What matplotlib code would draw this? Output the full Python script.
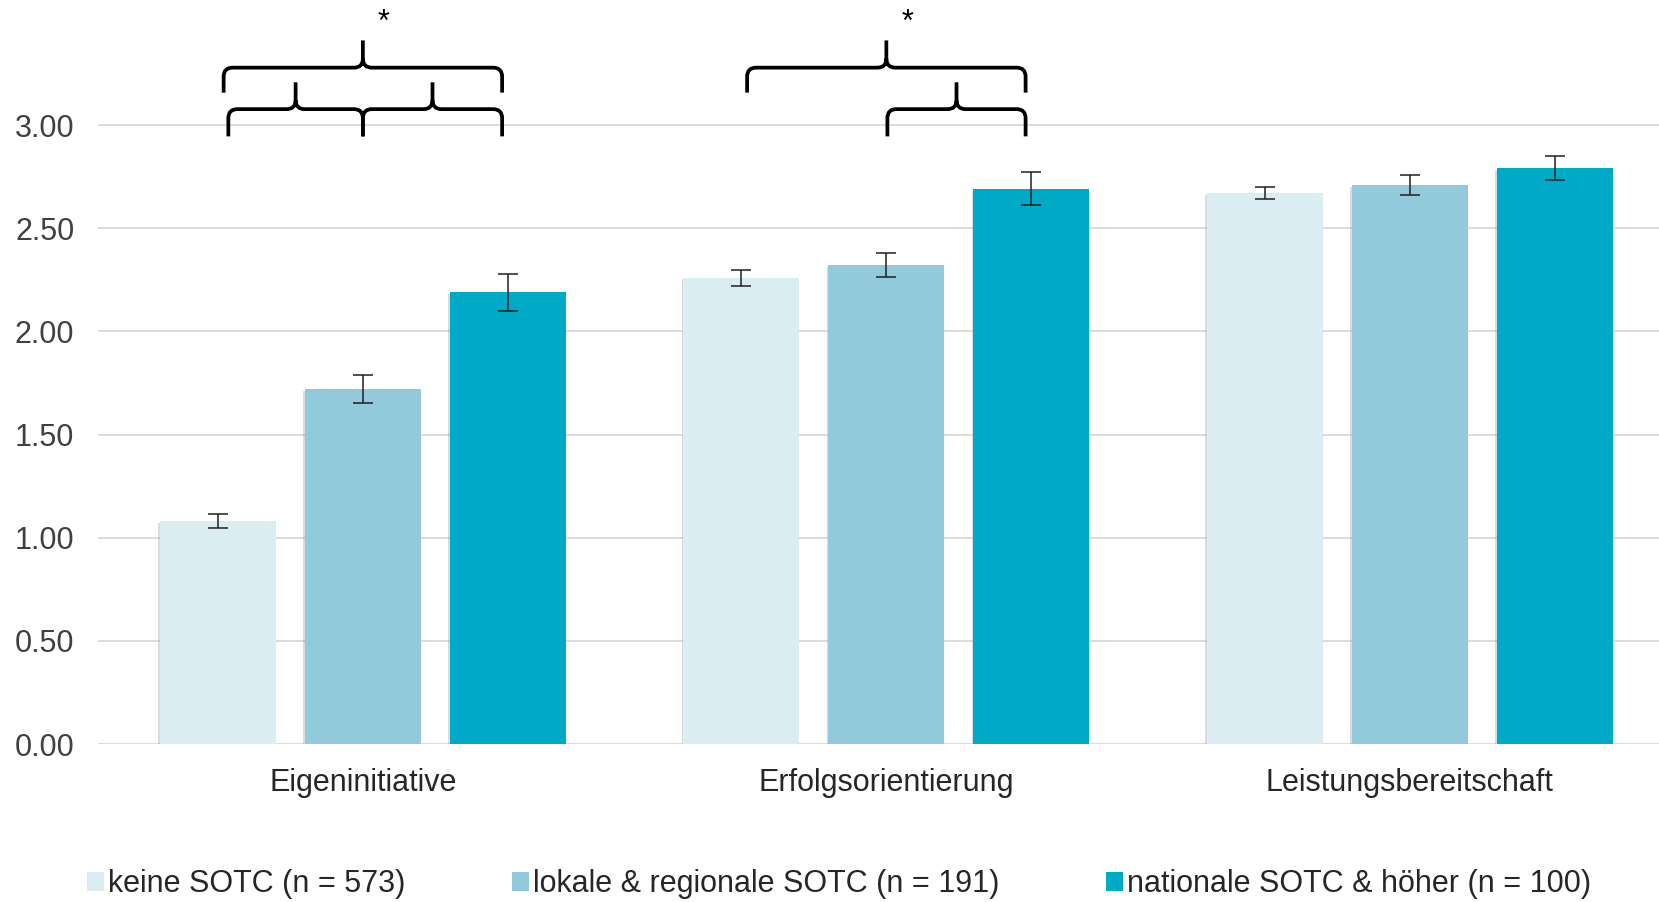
import numpy as np
import matplotlib
matplotlib.use("Agg")
import matplotlib.pyplot as plt
from matplotlib.path import Path
from matplotlib.patches import PathPatch, Patch
import matplotlib.patheffects as pe

plt.rcParams['font.family'] = ['Liberation Sans', 'DejaVu Sans']

# ---- data ----
categories = ["Eigeninitiative", "Erfolgsorientierung", "Leistungsbereitschaft"]
series_labels = ["keine SOTC (n = 573)",
                 "lokale & regionale SOTC (n = 191)",
                 "nationale SOTC & höher (n = 100)"]
means_keine = [1.08, 2.26, 2.67]
means_lokal = [1.72, 2.32, 2.71]
means_national = [2.19, 2.69, 2.79]
err_keine = [0.034, 0.038, 0.029]
err_lokal = [0.067, 0.058, 0.050]
err_national = [0.090, 0.080, 0.058]
yticks = [0.0, 0.5, 1.0, 1.5, 2.0, 2.5, 3.0]

colors = ["#DAEDF2", "#93CADB", "#00AAC7"]
text_dark = "#262626"
grid_color = "#D9D9D9"

W, H = 1659, 902
fig = plt.figure(figsize=(W / 100, H / 100), dpi=100)
ax = fig.add_axes([98 / W, 1 - 744 / H, 1 - 98 / W, (744 - 114.7) / H])

x = np.arange(len(categories))
step = 0.277
width = 0.222
offsets = [-step, 0.0, step]
all_means = [means_keine, means_lokal, means_national]
all_errs = [err_keine, err_lokal, err_national]

shadow = [pe.SimplePatchShadow(offset=(-1.2, -1.2), shadow_rgbFace="#9a9a9a", alpha=0.35), pe.Normal()]
for off, m, e, c, lab in zip(offsets, all_means, all_errs, colors, series_labels):
    bars = ax.bar(x + off, m, width=width, color=c, label=lab, zorder=2)
    for b in bars:
        b.set_path_effects(shadow)
    ax.errorbar(x + off, m, yerr=e, fmt="none", ecolor="#1f1f1f",
                elinewidth=1.1, capsize=7.5, capthick=1.1, zorder=3)

ax.set_xlim(-0.506, 2.476)
ax.set_ylim(0, 3.05)
ax.set_yticks(yticks)
ax.set_yticklabels([f"{v:.2f}" for v in yticks])
ax.set_xticks(x)
ax.set_xticklabels(categories)
ax.tick_params(axis="y", length=0, pad=17, labelsize=22, labelcolor="#404040")
ax.tick_params(axis="x", length=0, pad=17, labelsize=22, labelcolor=text_dark)
ax.yaxis.grid(True, color=grid_color, linewidth=1.3, zorder=0)
ax.set_axisbelow(True)
for s in ax.spines.values():
    s.set_visible(False)


def brace(ax, x0, x1, y_end, y_h, y_tip, rx=0.0172, ry=0.0436):
    """Curly brace opening downward with ends at y_end and the cusp at y_tip."""
    xt = 0.5 * (x0 + x1)
    verts = [
        (x0, y_end), (x0, y_h - ry),
        (x0, y_h), (x0 + rx, y_h),
        (xt - rx, y_h),
        (xt, y_h), (xt, y_h + ry),
        (xt, y_tip),
        (xt, y_h + ry),
        (xt, y_h), (xt + rx, y_h),
        (x1 - rx, y_h),
        (x1, y_h), (x1, y_h - ry),
        (x1, y_end),
    ]
    codes = [Path.MOVETO, Path.LINETO,
             Path.CURVE3, Path.CURVE3,
             Path.LINETO,
             Path.CURVE3, Path.CURVE3,
             Path.LINETO,
             Path.MOVETO,
             Path.CURVE3, Path.CURVE3,
             Path.LINETO,
             Path.CURVE3, Path.CURVE3,
             Path.LINETO]
    patch = PathPatch(Path(verts, codes), facecolor="none", edgecolor="black",
                      linewidth=2.7, capstyle="butt", joinstyle="round",
                      clip_on=False, zorder=5)
    ax.add_patch(patch)
    return xt


inset = 0.011
big = (3.157, 3.278, 3.41)
small = (2.945, 3.077, 3.207)
star_y = 3.458

# Eigeninitiative: all three groups compared
g = 0
xt = brace(ax, g - step + inset, g + step - inset, *big)
ax.text(xt + 0.04, star_y, "*", ha="center", va="baseline", fontsize=22, color="black")
brace(ax, g - step + 0.02, g, *small)
brace(ax, g, g + step - inset, *small)

# Erfolgsorientierung
g = 1
xt = brace(ax, g - step + inset, g + step - inset, *big)
ax.text(xt + 0.04, star_y, "*", ha="center", va="baseline", fontsize=22, color="black")
brace(ax, g + 0.002, g + step - inset, *small)

handles = [Patch(facecolor=c, edgecolor="none") for c in colors]
fig.legend(handles, series_labels, loc="center left",
           bbox_to_anchor=(87 / W, 1 - 884 / H), ncol=3, frameon=False,
           handlelength=0.56, handleheight=0.56, handletextpad=0.12,
           columnspacing=3.5, borderpad=0, borderaxespad=0,
           fontsize=22, labelcolor=text_dark)

fig.savefig("out.png", dpi=100, facecolor="white")
